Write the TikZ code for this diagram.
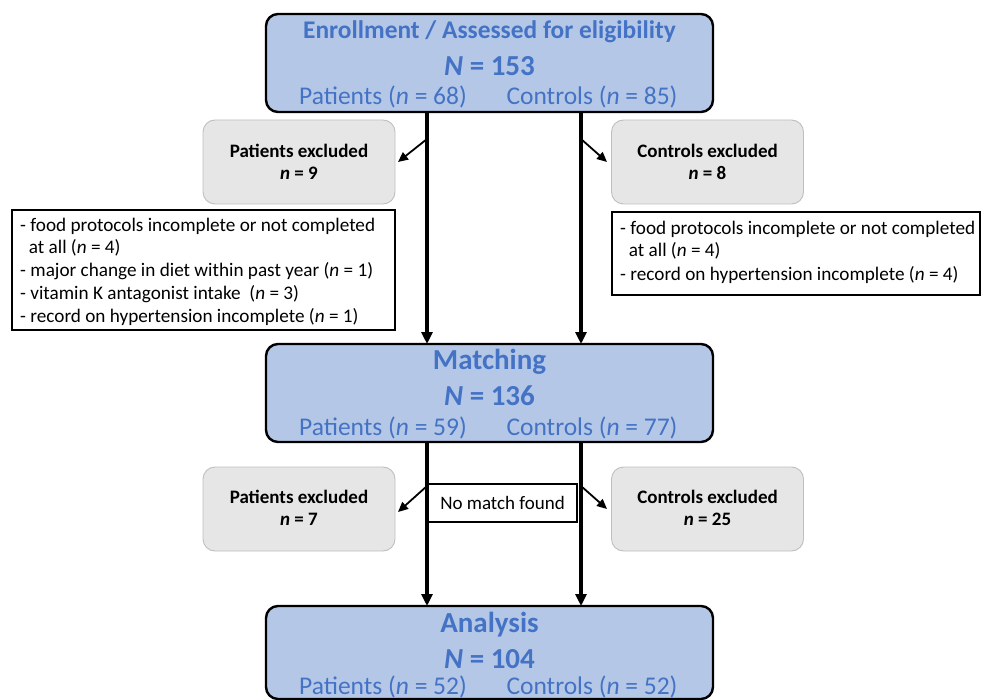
\documentclass[tikz,border=0pt]{standalone}
\usepackage{fontspec}
\setmainfont{Carlito}
\usetikzlibrary{arrows.meta}
\definecolor{boxblue}{HTML}{B4C7E7}
\definecolor{txtblue}{HTML}{4472C4}
\definecolor{boxgray}{HTML}{E7E6E6}
\definecolor{edgegray}{HTML}{BFBFBF}
\tikzset{
  bluebox/.style={draw=black, line width=2.4pt, fill=boxblue, rounded corners=12pt, minimum width=447pt, inner sep=0pt},
  graybox/.style={draw=edgegray, line width=0.9pt, fill=boxgray, rounded corners=12pt, minimum width=192pt, minimum height=84pt, inner sep=0pt},
  listbox/.style={draw=black, line width=1.4pt, fill=white, inner sep=0pt},
  bigtitle/.style={text=txtblue, font=\fontsize{29}{33}\selectfont\bfseries, inner sep=0pt},
  midtitle/.style={text=txtblue, font=\fontsize{25.4}{29}\selectfont\bfseries, inner sep=0pt},
  grouptxt/.style={text=txtblue, font=\fontsize{25.5}{29}\selectfont, inner sep=0pt},
  exctxt/.style={font=\fontsize{19}{22}\selectfont\bfseries, inner sep=0pt},
  listtxt/.style={font=\fontsize{19.2}{23}\selectfont, inner sep=0pt, anchor=west},
  mainarrow/.style={line width=3.2pt, -{Triangle[length=12pt,width=11pt]}},
  sidearrow/.style={line width=1.8pt, -{Triangle[length=10pt,width=9pt]}}
}
\begin{document}
\begin{tikzpicture}[x=1pt,y=-1pt]
\useasboundingbox (0,0) rectangle (984,700);
% blue boxes
\node[bluebox, minimum height=98pt] (enr) at (489.5,63) {};
\node[bluebox, minimum height=98pt] (mat) at (489.5,393) {};
\node[bluebox, minimum height=93pt] (ana) at (489.5,652.5) {};
% top box text
\node[midtitle] (enrT) at (489.5,32) {Enrollment / Assessed for eligibility};
\node[bigtitle] (enrN) at (489.5,66) {\textit{N} = 153};
\node[grouptxt] (enrP) at (383,97) {Patients (\textit{n} = 68)};
\node[grouptxt] (enrC) at (592,97) {Controls (\textit{n} = 85)};
% matching text
\node[bigtitle] (matT) at (489.5,362) {Matching};
\node[bigtitle] (matN) at (489.5,396) {\textit{N} = 136};
\node[grouptxt] (matP) at (383,428) {Patients (\textit{n} = 59)};
\node[grouptxt] (matC) at (592,428) {Controls (\textit{n} = 77)};
% analysis text
\node[bigtitle] (anaT) at (489.5,625) {Analysis};
\node[bigtitle] (anaN) at (489.5,659) {\textit{N} = 104};
\node[grouptxt] (anaP) at (383,686.5) {Patients (\textit{n} = 52)};
\node[grouptxt] (anaC) at (592,686.5) {Controls (\textit{n} = 52)};
% gray boxes
\node[graybox] (pex1) at (299,162) {};
\node[exctxt] (pex1a) at (299,151) {Patients excluded};
\node[exctxt] (pex1b) at (299,173) {\textit{n} = 9};
\node[graybox] (cex1) at (707.5,162) {};
\node[exctxt] (cex1a) at (707.5,151) {Controls excluded};
\node[exctxt] (cex1b) at (707.5,173) {\textit{n} = 8};
\node[graybox] (pex2) at (299,509) {};
\node[exctxt] (pex2a) at (299,497) {Patients excluded};
\node[exctxt] (pex2b) at (299,519) {\textit{n} = 7};
\node[graybox] (cex2) at (707.5,509) {};
\node[exctxt] (cex2a) at (707.5,497) {Controls excluded};
\node[exctxt] (cex2b) at (707.5,519) {\textit{n} = 25};
% list boxes
\node[listbox, minimum width=383pt, minimum height=120pt] (plist) at (203.5,270) {};
\node[listtxt] (pl1) at (20,226) {- food protocols incomplete or not completed};
\node[listtxt] (pl2) at (20,248) {\ \ at all (\textit{n} = 4)};
\node[listtxt] (pl3) at (20,271) {- major change in diet within past year (\textit{n} = 1)};
\node[listtxt] (pl4) at (20,294) {- vitamin K antagonist intake\ \ (\textit{n} = 3)};
\node[listtxt] (pl5) at (20,317) {- record on hypertension incomplete (\textit{n} = 1)};
\node[listbox, minimum width=368pt, minimum height=83pt] (clist) at (796,253.5) {};
\node[listtxt] (cl1) at (620,229) {- food protocols incomplete or not completed};
\node[listtxt] (cl2) at (620,251) {\ \ at all (\textit{n} = 4)};
\node[listtxt] (cl3) at (620,275) {- record on hypertension incomplete (\textit{n} = 4)};
% no match
\node[listbox, minimum width=149pt, minimum height=38pt, font=\fontsize{19}{22}\selectfont] (nomatch) at (502.5,503) {No match found};
% coordinates for arrows
\coordinate (a1s) at (427,112);
\coordinate (a1e) at (427,344);
\coordinate (a2s) at (581,112);
\coordinate (a2e) at (581,344);
\coordinate (a3s) at (427,442);
\coordinate (a3e) at (427,606);
\coordinate (a4s) at (581,442);
\coordinate (a4e) at (581,606);
\coordinate (d1s) at (427,139);
\coordinate (d1e) at (398,162);
\coordinate (d2s) at (581,139);
\coordinate (d2e) at (607,162);
\coordinate (d3s) at (427,486);
\coordinate (d3e) at (398,512);
\coordinate (d4s) at (581,486);
\coordinate (d4e) at (607,509);
\draw[mainarrow] (a1s) -- (a1e);
\draw[mainarrow] (a2s) -- (a2e);
\draw[mainarrow] (a3s) -- (a3e);
\draw[mainarrow] (a4s) -- (a4e);
\draw[sidearrow] (d1s) -- (d1e);
\draw[sidearrow] (d2s) -- (d2e);
\draw[sidearrow] (d3s) -- (d3e);
\draw[sidearrow] (d4s) -- (d4e);
\end{tikzpicture}
\end{document}
